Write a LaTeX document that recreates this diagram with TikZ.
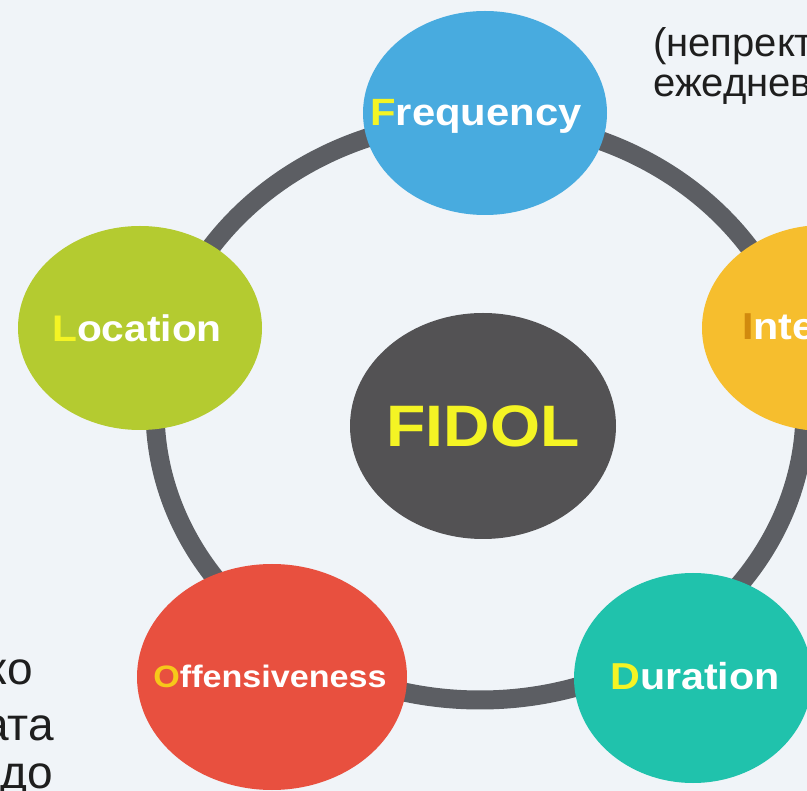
\documentclass[tikz,border=0pt]{standalone}
\usepackage{fontspec}
\setmainfont{Liberation Sans}
\newfontfamily\lblfont[FakeStretch=1.1]{Liberation Sans}
\usetikzlibrary{shapes.geometric}

\definecolor{bgcol}{HTML}{F0F4F8}
\definecolor{ringcol}{HTML}{5C5E63}
\definecolor{freqcol}{HTML}{48ABDF}
\definecolor{intcol}{HTML}{F6BE2E}
\definecolor{loccol}{HTML}{B4CB30}
\definecolor{fidolcol}{HTML}{535254}
\definecolor{offcol}{HTML}{E8503F}
\definecolor{durcol}{HTML}{20C2AC}
\definecolor{hilite}{HTML}{F4F424}
\definecolor{hiliteo}{HTML}{F7C81A}
\definecolor{hilitei}{HTML}{D18A0E}
\definecolor{txtcol}{HTML}{1E1E1E}

\tikzset{
    blob/.style n args={3}{ellipse,fill=#1,inner sep=0pt,
        minimum width=#2,minimum height=#3},
    lbl/.style={font=\lblfont\bfseries,text=white,inner sep=0pt,anchor=base},
    side/.style={font=\fontsize{40}{40}\selectfont,text=txtcol,inner sep=0pt}
}

\begin{document}
\begin{tikzpicture}[x=1pt,y=-1pt]
    \useasboundingbox (0,0) rectangle (807,791);
    \clip (0,0) rectangle (807,791);
    \fill[bgcol] (0,0) rectangle (807,791);
    % ring behind the five circles
    \draw[ringcol,line width=19pt] (480,410) ellipse (325 and 290);

    \node[blob={freqcol}{244pt}{204pt}] (freq) at (485,113) {};
    \node[blob={intcol}{244pt}{206pt}] (inten) at (824,328) {};
    \node[blob={loccol}{244pt}{204pt}] (loc) at (140,328) {};
    \node[blob={fidolcol}{266pt}{226pt}] (fidol) at (483,426) {};
    \node[blob={offcol}{270pt}{226pt}] (off) at (272,677) {};
    \node[blob={durcol}{238pt}{210pt}] (dur) at (693,678) {};

    \node[lbl,font=\lblfont\bfseries\fontsize{38}{38}\selectfont] (freqtxt) at (476,126)
        {\textcolor{hilite}{F}requency};
    \node[lbl,anchor=base west,font=\lblfont\bfseries\fontsize{37.5}{37.5}\selectfont] (inttxt) at (742,340)
        {\textcolor{hilitei}{I}ntensity};
    \node[lbl,font=\lblfont\bfseries\fontsize{37}{37}\selectfont] (loctxt) at (137,342)
        {\textcolor{hilite}{L}ocation};
    \node[lbl,text=hilite,font=\lblfont\bfseries\fontsize{58.5}{58.5}\selectfont] (fidoltxt) at (483,447)
        {FIDOL};
    \node[lbl,font=\lblfont\bfseries\fontsize{31}{31}\selectfont] (offtxt) at (270,688)
        {\textcolor{hiliteo}{O}ffensiveness};
    \node[lbl,font=\lblfont\bfseries\fontsize{37.5}{37.5}\selectfont] (durtxt) at (695,690)
        {\textcolor{hilite}{D}uration};

    % cut-off text at the edges
    \node[side,anchor=base west] (top1) at (653,57) {(непрект};
    \node[side,anchor=base west] (top2) at (653,97) {ежеднев};
    \node[side,anchor=base east,font=\fontsize{46}{46}\selectfont] (bot1) at (33,685) {ко};
    \node[side,anchor=base east,font=\fontsize{46}{46}\selectfont] (bot2) at (54,740) {ата};
    \node[side,anchor=base east,font=\fontsize{46}{46}\selectfont] (bot3) at (53,788) {до};
\end{tikzpicture}
\end{document}
